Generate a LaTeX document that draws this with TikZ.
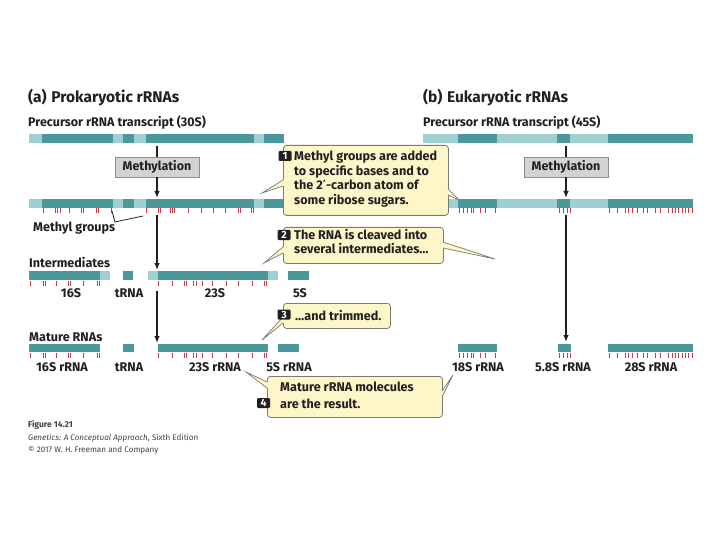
\documentclass[tikz,border=0pt]{standalone}
\usepackage{fontspec}
\setmainfont{Fira Sans}
\newfontfamily\primefont{DejaVu Sans}
\usetikzlibrary{arrows.meta}
\definecolor{ink}{HTML}{231F20}
\definecolor{dk}{HTML}{4A9899}
\definecolor{lt}{HTML}{9FCFD0}
\definecolor{rd}{HTML}{C23B45}
\definecolor{cfill}{HTML}{FCF6C8}
\definecolor{cline}{HTML}{7D7B70}
\definecolor{mfill}{HTML}{D2D3D5}
\definecolor{mline}{HTML}{8C8D90}
\newcommand\rnasegs[3]{\foreach \sa/\sb/\sc in {#3} {\fill[\sc] (\sa,#1) rectangle (\sb,#2);}}
\newcommand\rnaticks[3]{\foreach \tx in {#3} {\draw[tickmark] (\tx,#1) -- (\tx,#2);}}
\tikzset{
 lbl/.style={inner sep=0, text=ink, font=\bfseries\fontsize{12.6}{14}\selectfont},
 ttl/.style={inner sep=0, text=ink, font=\bfseries\fontsize{15.5}{17}\selectfont},
 hdr/.style={inner sep=0, text=ink, font=\bfseries\fontsize{12.5}{14}\selectfont},
 ctext/.style={inner sep=0, text=ink, font=\bfseries\fontsize{12.6}{14}\selectfont, anchor=base west},
 callbox/.style={draw=cline, fill=cfill, line width=0.8pt, rounded corners=3pt, inner sep=0, anchor=north west},
 badge/.style={fill=ink, text=white, rounded corners=1.2pt, inner sep=0, minimum width=13pt, minimum height=10pt, font=\bfseries\fontsize{10.5}{10}\selectfont},
 methbox/.style={draw=mline, fill=mfill, line width=0.7pt, inner sep=0, minimum width=84pt, minimum height=20pt, text=ink, font=\bfseries\fontsize{12.5}{14}\selectfont},
 vline/.style={draw=ink, line width=1.3pt},
 varrow/.style={vline, -{Latex[length=7pt,width=5.5pt]}},
 tickmark/.style={draw=rd, line width=1pt},
 ptr/.style={draw=cline, line width=0.7pt},
 ptrfill/.style={fill=cfill},
 bracketline/.style={draw=ink, line width=0.8pt},
 foot/.style={inner sep=0, text=ink!85, font=\fontsize{8.1}{9}\selectfont, anchor=base west},
}
\begin{document}
\begin{tikzpicture}[x=1pt,y=-1pt]
\useasboundingbox[fill=white] (0,0) rectangle (720,540);

% ---------- headings ----------
\node[ttl, anchor=base west] (ta) at (28,103) {(a)\hspace{0.3em}Prokaryotic rRNAs};
\node[hdr, anchor=base west] (pa) at (28,127) {Precursor rRNA transcript (30S)};
\node[ttl, anchor=base west] (tb) at (423,103) {(b)\hspace{0.3em}Eukaryotic rRNAs};
\node[hdr, anchor=base west] (pb) at (423,127) {Precursor rRNA transcript (45S)};

% ---------- bars ----------
% precursor
\rnasegs{134}{143}{29/42/lt, 42/113/dk, 113/123/lt, 123/134/dk, 134/146/lt, 146/254/dk, 254/264/lt, 264/284/dk}
\rnasegs{134}{143}{423/458/lt, 458/497/dk, 497/557/lt, 557/570/dk, 570/608/lt, 608/693/dk}
% methylated
\rnasegs{199}{208}{29/42/lt, 42/113/dk, 113/123/lt, 123/134/dk, 134/146/lt, 146/254/dk, 254/264/lt, 264/284/dk}
\rnasegs{199}{208}{423/458/lt, 458/497/dk, 497/557/lt, 557/570/dk, 570/608/lt, 608/693/dk}
% intermediates
\rnasegs{271}{280}{29/100/dk, 100/110/lt, 123/133/dk, 148/158/lt, 158/268/dk, 268/278/lt, 288/309/dk}
% mature
\rnasegs{343.5}{352}{29/100/dk, 123/134/dk, 158/268/dk, 278/299/dk, 458/497/dk, 558/571/dk, 608/693/dk}

% ---------- ticks ----------
\rnaticks{208.5}{213.5}{43,55,57.5,60,69,81,83,96,98.5,111,146.5,158,160,170,172,174,188,201,213,225,238,240,251,253}
\rnaticks{280.5}{285.5}{30,43,45,56,68,70,83,97,99,158.5,172,184,186,193,196,202,212,226,238,252,264,266}
\rnaticks{352.5}{357.5}{30,43,45,56,68,70,83,97,99,158.5,172,184,186,193,196,202,212,226,238,252,264,266}
\rnaticks{208.5}{213.5}{459,463,467,471,473,480,485,495.5,559,563,567,570,609,617,625,628,632,637,643,647,655,660,668,672,675,678,682,685,688,692}
\rnaticks{352.5}{357.5}{459,463,467,471,473,480,485,495.5,559,563,567,570,609,617,625,628,632,637,643,647,655,660,668,672,675,678,682,685,688,692}

% ---------- methyl groups bracket ----------
\coordinate (mg1) at (112,211);
\coordinate (mg2) at (115,222);
\coordinate (mg3) at (143,216);
\draw[bracketline] (mg1) -- (mg2) -- (mg3);
\node[lbl, anchor=base west] (mgl) at (33,231) {Methyl groups};

% ---------- row labels ----------
\node[lbl, anchor=base west] (il) at (29,267) {Intermediates};
\node[lbl, anchor=base] (i16) at (71,297) {16S};
\node[lbl, anchor=base] (itr) at (129,297) {tRNA};
\node[lbl, anchor=base] (i23) at (215,297) {23S};
\node[lbl, anchor=base] (i5) at (300,297) {5S};
\node[lbl, anchor=base west] (ml) at (29,341) {Mature RNAs};
\node[lbl, anchor=base] (m16) at (62,371) {16S rRNA};
\node[lbl, anchor=base] (mtr) at (129,371) {tRNA};
\node[lbl, anchor=base] (m23) at (215,371) {23S rRNA};
\node[lbl, anchor=base] (m5) at (289,371) {5S rRNA};
\node[lbl, anchor=base] (m18) at (478,371) {18S rRNA};
\node[lbl, anchor=base] (m58) at (563,371) {5.8S rRNA};
\node[lbl, anchor=base] (m28) at (651,371) {28S rRNA};

% ---------- methylation boxes and arrows ----------
\node[methbox] (mA) at (157,167) {Methylation};
\node[methbox] (mB) at (566,167) {Methylation};
\coordinate (la0) at (157,146);
\coordinate (la1) at (157,198);
\coordinate (la2) at (157,215);
\coordinate (la3) at (157,270);
\coordinate (la4) at (157,291);
\coordinate (la5) at (157,343);
\draw[vline] (la0) -- (mA.north);
\draw[varrow] (mA.south) -- (la1);
\draw[varrow] (la2) -- (la3);
\draw[varrow] (la4) -- (la5);
\coordinate (ra0) at (566,146);
\coordinate (ra1) at (566,198);
\coordinate (ra2) at (566,215);
\coordinate (ra3) at (566,342);
\draw[vline] (ra0) -- (mB.north);
\draw[varrow] (mB.south) -- (ra1);
\draw[varrow] (ra2) -- (ra3);

% ---------- callout 1 ----------
\node[callbox, minimum width=165pt, minimum height=70pt] (c1) at (283,145) {};
\coordinate (c1a) at (283,180); \coordinate (c1b) at (283,186); \coordinate (c1t) at (262,193);
\coordinate (c1c) at (448,189); \coordinate (c1d) at (448,195); \coordinate (c1u) at (459,200);
\fill[ptrfill] (c1a) -- (c1t) -- (c1b) -- ++(2,0) -- ([xshift=2pt]c1a) -- cycle;
\draw[ptr] (c1a) -- (c1t) -- (c1b);
\fill[ptrfill] (c1c) -- (c1u) -- (c1d) -- ++(-2,0) -- ([xshift=-2pt]c1c) -- cycle;
\draw[ptr] (c1c) -- (c1u) -- (c1d);
\node[badge] (n1) at (285,156) {1};
\node[ctext] (c1l1) at (294,161) {Methyl groups are added};
\node[ctext] (c1l2) at (294,175.5) {to specific bases and to};
\node[ctext] (c1l3) at (294,190) {the 2{\primefont\bfseries ′}-carbon atom of};
\node[ctext] (c1l4) at (294,204.5) {some ribose sugars.};

% ---------- callout 2 ----------
\node[callbox, minimum width=160pt, minimum height=36pt] (c2) at (283,227) {};
\coordinate (c2a) at (283,247); \coordinate (c2b) at (283,253); \coordinate (c2t) at (264,263);
\coordinate (c2c) at (443,242); \coordinate (c2d) at (443,248); \coordinate (c2u) at (495,259);
\fill[ptrfill] (c2a) -- (c2t) -- (c2b) -- ++(2,0) -- ([xshift=2pt]c2a) -- cycle;
\draw[ptr] (c2a) -- (c2t) -- (c2b);
\fill[ptrfill] (c2c) -- (c2u) -- (c2d) -- ++(-2,0) -- ([xshift=-2pt]c2c) -- cycle;
\draw[ptr] (c2c) -- (c2u) -- (c2d);
\node[badge] (n2) at (284,235) {2};
\node[ctext] (c2l1) at (294,240) {The RNA is cleaved into};
\node[ctext] (c2l2) at (294,254) {several intermediates…};

% ---------- callout 3 ----------
\node[callbox, minimum width=107pt, minimum height=25pt] (c3) at (283,303) {};
\coordinate (c3a) at (283,317); \coordinate (c3b) at (283,323); \coordinate (c3t) at (262,340);
\fill[ptrfill] (c3a) -- (c3t) -- (c3b) -- ++(2,0) -- ([xshift=2pt]c3a) -- cycle;
\draw[ptr] (c3a) -- (c3t) -- (c3b);
\node[badge] (n3) at (284,314.5) {3};
\node[ctext] (c3l1) at (295,320) {…and trimmed.};

% ---------- callout 4 ----------
\node[callbox, minimum width=175pt, minimum height=41pt] (c4) at (267,376) {};
\coordinate (c4a) at (267,382); \coordinate (c4b) at (267,388); \coordinate (c4t) at (246,372);
\coordinate (c4c) at (442,391); \coordinate (c4d) at (442,397); \coordinate (c4u) at (453,375);
\fill[ptrfill] (c4a) -- (c4t) -- (c4b) -- ++(2,0) -- ([xshift=2pt]c4a) -- cycle;
\draw[ptr] (c4a) -- (c4t) -- (c4b);
\fill[ptrfill] (c4c) -- (c4u) -- (c4d) -- ++(-2,0) -- ([xshift=-2pt]c4c) -- cycle;
\draw[ptr] (c4c) -- (c4u) -- (c4d);
\node[badge] (n4) at (263.5,403) {4};
\node[ctext] (c4l1) at (280,391) {Mature rRNA molecules};
\node[ctext] (c4l2) at (280,408.5) {are the result.};

% ---------- footer ----------
\node[foot, font=\bfseries\fontsize{8.5}{9}\selectfont] (f1) at (28,427) {Figure 14.21};
\node[foot] (f2) at (28,440) {\textit{Genetics: A Conceptual Approach}, Sixth Edition};
\node[foot] (f3) at (28,452.5) {© 2017 W. H. Freeman and Company};
\end{tikzpicture}
\end{document}
